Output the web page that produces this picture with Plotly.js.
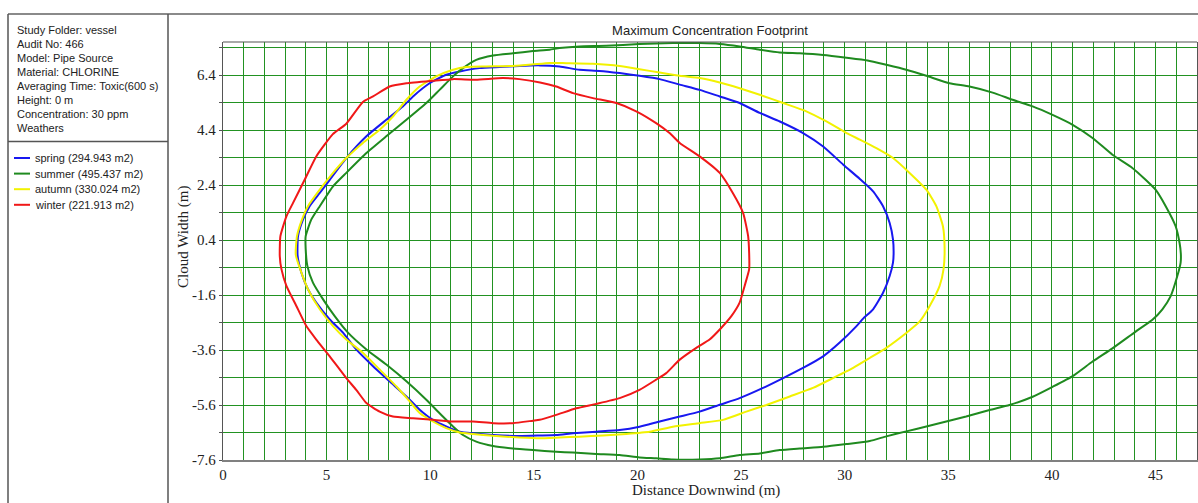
<!DOCTYPE html>
<html>
<head>
<meta charset="utf-8">
<script src="https://cdn.plot.ly/plotly-3.0.1.min.js"></script>
<style>html,body{margin:0;padding:0;background:#fff;}#chart{width:1198px;height:503px;}</style>
</head>
<body>
<div id="chart"></div>
<script>
// ---------------- data ----------------
const seriesNames = ['spring (294.943 m2)', 'summer (495.437 m2)', 'autumn (330.024 m2)', 'winter (221.913 m2)'];
const seriesColors = ['#1818f0', '#1f8a1f', '#f2f200', '#f01818'];

const springX = [3.6,3.62,3.86,4.18,4.67,5.15,5.95,6.92,7.88,8.69,9.17,9.97,10.77,11.42,12.38,13.35,14.31,15.28,16.24,17.2,18.17,19.14,20.1,21.07,22.04,23.0,23.97,24.93,25.9,26.87,27.99,28.96,29.93,30.73,31.37,31.85,32.17,32.33,32.36,32.33,32.17,31.85,31.37,30.9,30.57,29.76,28.96,27.99,27.03,26.06,24.93,23.97,23.0,22.04,21.07,20.1,19.14,18.01,16.89,16.08,15.28,14.3,13.03,12.06,11.42,10.77,10.13,9.49,8.85,8.04,7.24,6.43,5.79,5.15,4.5,4.1,3.78,3.6];
const springY = [-0.17,0.54,1.14,1.63,2.11,2.59,3.38,4.17,4.77,5.26,5.62,6.1,6.41,6.53,6.65,6.69,6.73,6.75,6.71,6.59,6.55,6.47,6.37,6.25,6.05,5.86,5.62,5.38,5.02,4.71,4.29,3.8,3.14,2.62,2.17,1.63,1.02,0.42,-0.1,-0.42,-0.91,-1.52,-2.12,-2.45,-2.73,-3.33,-3.83,-4.25,-4.62,-4.98,-5.35,-5.59,-5.84,-6.02,-6.2,-6.39,-6.51,-6.57,-6.63,-6.69,-6.71,-6.73,-6.69,-6.63,-6.57,-6.38,-6.14,-5.77,-5.29,-4.74,-4.19,-3.58,-2.97,-2.49,-1.88,-1.39,-0.78,-0.17];

const summerX = [3.99,3.99,4.26,4.67,5.31,5.95,6.92,7.88,8.85,9.81,10.45,11.1,11.58,12.22,13.03,13.99,14.96,15.76,16.24,17.2,18.49,20.1,21.71,23.0,23.97,24.93,25.9,26.86,27.83,28.96,30.09,31.1,32.01,32.97,33.94,35.06,36.02,37.14,38.1,39.07,40.03,41.0,41.96,42.92,43.88,44.52,45.0,45.49,45.97,46.16,46.22,46.21,46.05,45.73,45.33,44.85,44.04,42.92,41.96,41.0,40.03,39.07,37.95,36.99,35.86,34.9,33.94,32.97,32.01,31.21,30.09,28.96,27.83,26.86,25.9,24.93,23.97,23.0,21.71,20.9,20.1,19.14,18.01,16.89,16.08,14.96,13.99,13.03,12.22,11.58,11.1,10.45,9.81,8.85,7.88,6.92,6.03,5.39,4.83,4.34,4.07,3.99];
const summerY = [0.07,0.54,1.14,1.63,2.35,2.84,3.56,4.17,4.77,5.38,5.86,6.35,6.65,6.95,7.11,7.19,7.27,7.32,7.38,7.44,7.46,7.53,7.56,7.56,7.53,7.44,7.32,7.22,7.19,7.13,7.03,6.93,6.77,6.59,6.37,6.1,5.98,5.76,5.5,5.26,4.95,4.59,4.11,3.5,3.02,2.59,2.23,1.63,0.9,0.29,-0.1,-0.42,-0.91,-1.64,-2.12,-2.5,-2.93,-3.54,-4.02,-4.55,-4.94,-5.3,-5.6,-5.78,-6.02,-6.2,-6.38,-6.56,-6.74,-6.91,-7.02,-7.12,-7.18,-7.24,-7.36,-7.42,-7.54,-7.58,-7.58,-7.54,-7.51,-7.42,-7.38,-7.33,-7.3,-7.24,-7.18,-7.09,-6.93,-6.69,-6.38,-5.9,-5.41,-4.74,-4.13,-3.58,-2.97,-2.37,-1.76,-1.15,-0.54,0.07];

const autumnX = [3.51,3.57,3.78,4.1,4.67,5.31,5.95,6.75,7.56,8.2,8.85,9.49,10.29,11.1,11.74,12.7,13.99,14.9,15.76,16.56,17.85,19.14,20.1,21.07,22.04,23.0,23.97,24.93,25.9,27.03,28.15,29.12,30.09,30.73,31.53,32.33,33.13,33.94,34.42,34.74,34.82,34.77,34.58,34.1,33.62,32.97,32.01,31.21,30.41,29.44,28.47,27.35,26.22,25.25,24.13,23.0,21.71,20.59,19.46,18.33,17.2,16.24,15.28,14.31,13.03,12.06,11.42,10.77,10.13,9.49,9.01,8.36,7.56,6.75,5.95,5.31,4.67,4.1,3.78,3.51];
const autumnY = [-0.13,0.54,1.08,1.63,2.23,2.84,3.38,3.93,4.41,4.89,5.5,5.98,6.35,6.59,6.69,6.71,6.73,6.78,6.84,6.83,6.81,6.73,6.61,6.49,6.37,6.29,6.13,5.92,5.68,5.38,5.08,4.71,4.29,4.05,3.74,3.38,2.84,2.23,1.63,0.9,0.1,-0.66,-1.27,-2.0,-2.56,-2.98,-3.52,-3.89,-4.25,-4.62,-4.98,-5.29,-5.6,-5.84,-6.14,-6.26,-6.39,-6.57,-6.65,-6.71,-6.75,-6.78,-6.81,-6.78,-6.72,-6.65,-6.6,-6.44,-6.2,-5.89,-5.47,-4.92,-4.31,-3.7,-3.22,-2.73,-2.12,-1.39,-0.78,-0.13];

const winterX = [2.74,2.77,3.06,3.38,3.94,4.5,5.3,5.95,6.75,7.24,8.04,8.85,10.13,11.1,12.2,13.5,14.3,15.3,16.08,16.89,17.85,18.98,19.94,20.9,21.55,22.04,23.0,23.97,24.6,25.1,25.34,25.39,25.39,25.17,24.93,24.53,24.05,23.48,22.84,22.04,21.39,20.9,20.1,19.14,18.01,17.05,16.08,15.28,14.96,13.99,13.03,12.06,11.1,10.13,9.17,8.2,7.56,6.92,6.43,5.95,5.15,4.5,4.02,3.54,3.06,2.82,2.74];
const winterY = [-0.19,0.54,1.26,1.75,2.59,3.44,4.25,4.63,5.42,5.62,5.98,6.1,6.19,6.25,6.23,6.29,6.25,6.13,5.98,5.74,5.56,5.38,5.08,4.65,4.29,3.93,3.44,2.84,2.11,1.38,0.54,-0.1,-0.66,-1.27,-1.88,-2.37,-2.79,-3.22,-3.52,-3.95,-4.44,-4.68,-5.05,-5.35,-5.56,-5.72,-5.96,-6.14,-6.17,-6.26,-6.26,-6.2,-6.2,-6.14,-6.08,-6.02,-5.84,-5.53,-5.05,-4.62,-3.83,-3.22,-2.73,-2.0,-1.27,-0.66,-0.19];

const seriesX = [springX, summerX, autumnX, winterX];
const seriesY = [springY, summerY, autumnY, winterY];

const infoLines = ['Study Folder: vessel', 'Audit No: 466', 'Model: Pipe Source', 'Material: CHLORINE',
  'Averaging Time: Toxic(600 s)', 'Height: 0 m', 'Concentration: 30 ppm', 'Weathers'];

const chartTitle = 'Maximum Concentration Footprint';
const xTitle = 'Distance Downwind (m)';
const yTitle = 'Cloud Width (m)';
const yTickVals = [-7.6, -5.6, -3.6, -1.6, 0.4, 2.4, 4.4, 6.4];
const yTickText = ['-7.6', '-5.6', '-3.6', '-1.6', '0.4', '2.4', '4.4', '6.4'];

// ---------------- layout geometry ----------------
const Wd = 1198, Ht = 503;
const L = 223, R = 1197, T = 42, B = 460;
const px = v => (v - L) / (R - L);
const py = v => (B - v) / (B - T);

const grid = 'rgb(34,146,34)';
const sans = 'Liberation Sans, Arial, sans-serif';
const serif = 'Liberation Serif, Times New Roman, serif';

const traces = seriesX.map((xs, i) => ({
  x: xs, y: seriesY[i], type: 'scatter', mode: 'lines', name: seriesNames[i],
  line: {color: seriesColors[i], width: 2, shape: 'spline', smoothing: 0.5},
  hoverinfo: 'skip'
}));

const annotations = [];
infoLines.forEach((t, i) => annotations.push({
  xref: 'paper', yref: 'paper', x: px(15), y: py(30 + 14 * i), xanchor: 'left', yanchor: 'middle',
  text: t, showarrow: false, font: {family: sans, size: 11, color: '#222'}
}));
const shapes = [];
seriesNames.forEach((n, i) => {
  const yy = 158 + 15.6 * i;
  annotations.push({
    xref: 'paper', yref: 'paper', x: px(33), y: py(yy), xanchor: 'left', yanchor: 'middle',
    text: n, showarrow: false, font: {family: sans, size: 11, color: '#222'}
  });
  shapes.push({type: 'line', xref: 'paper', yref: 'paper', x0: px(14), x1: px(30), y0: py(yy), y1: py(yy),
    line: {color: seriesColors[i], width: 2}});
});
annotations.push({xref: 'paper', yref: 'paper', x: px(183), y: py(237), textangle: -90,
  xanchor: 'center', yanchor: 'middle', text: yTitle, showarrow: false,
  font: {family: serif, size: 15, color: '#222'}});
annotations.push({xref: 'paper', yref: 'paper', x: px(706), y: py(490),
  xanchor: 'center', yanchor: 'middle', text: xTitle, showarrow: false,
  font: {family: serif, size: 15, color: '#222'}});

// frame lines
const frame = '#8a8a8a';
shapes.push({type: 'line', xref: 'paper', yref: 'paper', x0: px(8), x1: px(1198), y0: py(14), y1: py(14), line: {color: frame, width: 2}});
shapes.push({type: 'line', xref: 'paper', yref: 'paper', x0: px(8), x1: px(8), y0: py(14), y1: py(503), line: {color: '#555', width: 1.5}});
shapes.push({type: 'line', xref: 'paper', yref: 'paper', x0: px(168), x1: px(168), y0: py(14), y1: py(503), line: {color: '#555', width: 1.5}});
shapes.push({type: 'line', xref: 'paper', yref: 'paper', x0: px(8), x1: px(168), y0: py(141.5), y1: py(141.5), line: {color: '#555', width: 1.5}});
shapes.push({type: 'line', xref: 'paper', yref: 'paper', x0: 0, x1: 1, y0: 1, y1: 1, line: {color: '#555', width: 1.2}});

const layout = {
  width: Wd, height: Ht,
  margin: {l: L, r: Wd - R, t: T, b: Ht - B, pad: 0},
  paper_bgcolor: '#fff', plot_bgcolor: '#fff',
  showlegend: false,
  title: {text: chartTitle, x: 710 / Wd, xref: 'container', xanchor: 'center',
    y: 1 - 30 / Ht, yref: 'container', yanchor: 'middle',
    font: {family: sans, size: 13, color: '#222'}},
  xaxis: {
    range: [0, 47], tickmode: 'linear', tick0: 0, dtick: 5,
    showgrid: true, gridcolor: grid, gridwidth: 1, zeroline: false,
    minor: {tickmode: 'linear', tick0: 0, dtick: 1, showgrid: true, gridcolor: grid, gridwidth: 1},
    showline: true, linecolor: '#808080', linewidth: 2,
    ticks: '', tickfont: {family: serif, size: 15, color: '#222'},
    fixedrange: true
  },
  yaxis: {
    range: [-7.6, 7.6], tickmode: 'array', tickvals: yTickVals, ticktext: yTickText,
    showgrid: true, gridcolor: grid, gridwidth: 1, zeroline: false,
    minor: {tickmode: 'linear', tick0: -7.6, dtick: 1, showgrid: true, gridcolor: grid, gridwidth: 1,
      ticks: 'outside', ticklen: 3, tickcolor: '#555'},
    showline: true, linecolor: '#555', linewidth: 1.2, mirror: true,
    ticks: 'outside', ticklen: 3, tickcolor: '#555',
    tickfont: {family: serif, size: 15, color: '#222'},
    fixedrange: true
  },
  annotations: annotations,
  shapes: shapes
};

Plotly.newPlot('chart', traces, layout, {displayModeBar: false, staticPlot: true});
</script>
</body>
</html>
